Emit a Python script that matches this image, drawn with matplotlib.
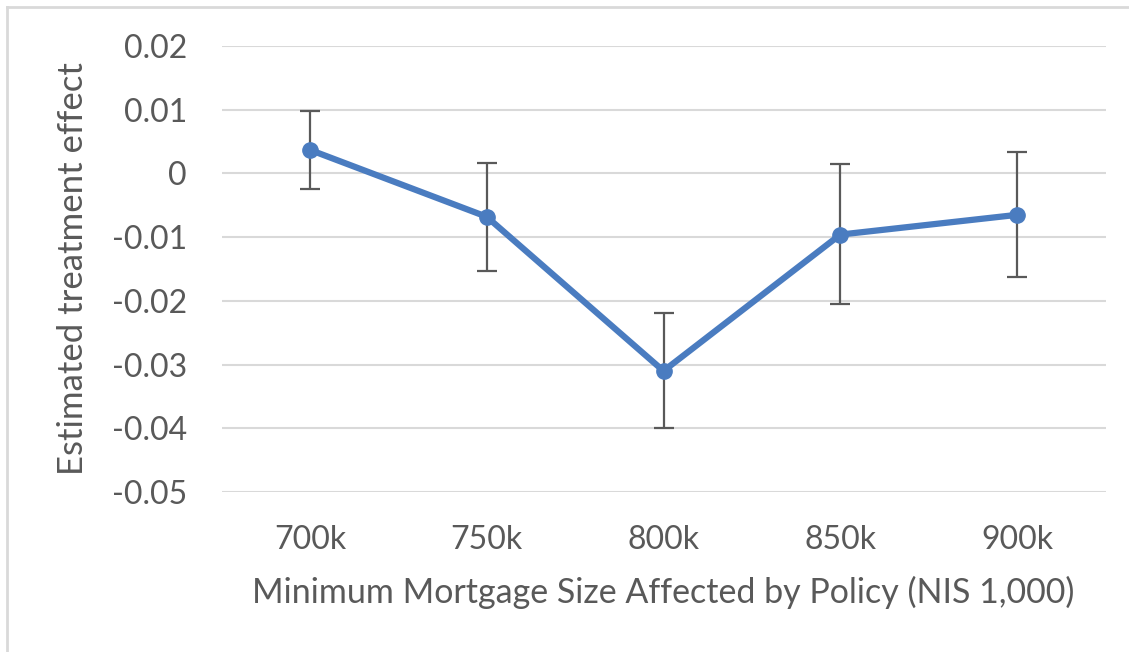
import matplotlib
matplotlib.use("Agg")
import matplotlib.pyplot as plt
from matplotlib.lines import Line2D

categories = ["700k", "750k", "800k", "850k", "900k"]
estimates = [0.0037, -0.0068, -0.0310, -0.0096, -0.0065]
upper = [0.0098, 0.0016, -0.0219, 0.0015, 0.0034]
lower = [-0.0024, -0.0153, -0.0400, -0.0205, -0.0162]
yticks = [0.02, 0.01, 0, -0.01, -0.02, -0.03, -0.04, -0.05]
ytick_labels = ["0.02", "0.01", "0", "-0.01", "-0.02", "-0.03", "-0.04", "-0.05"]

plt.rcParams['font.family'] = ['Lato', 'DejaVu Sans']
text_color = "#595959"

W, H = 1129, 652
fig = plt.figure(figsize=(W / 100, H / 100), dpi=100)
ax = fig.add_axes([221.5 / W, 1 - 492 / H, (1105.5 - 221.5) / W, (492 - 46) / H])

x = list(range(len(categories)))
yerr = [[e - l for e, l in zip(estimates, lower)], [u - e for e, u in zip(estimates, upper)]]
ax.errorbar(x, estimates, yerr=yerr, fmt='none', ecolor="#595959", elinewidth=1.6,
            capsize=7, capthick=1.6, zorder=2)
ax.plot(x, estimates, color="#4A7CC0", lw=4.5, marker='o', markersize=11,
        solid_capstyle='round', zorder=3)

ax.set_xlim(-0.5, len(categories) - 0.5)
ax.set_ylim(-0.05, 0.02)
ax.set_yticks(yticks)
ax.set_yticklabels(ytick_labels)
ax.set_xticks(x)
ax.set_xticklabels(categories)
ax.grid(axis='y', color="#d9d9d9", lw=1.5, zorder=0)
ax.set_axisbelow(True)
for s in ax.spines.values():
    s.set_visible(False)
ax.tick_params(axis='both', length=0, labelsize=23, colors=text_color)
ax.tick_params(axis='y', pad=25)
ax.tick_params(axis='x', pad=24)

ax.set_xlabel("Minimum Mortgage Size Affected by Policy (NIS 1,000)", fontsize=24.5,
              color=text_color, labelpad=15)
ax.set_ylabel("Estimated treatment effect", fontsize=25, color=text_color, labelpad=16)

# chart border (top and left visible)
fig.add_artist(Line2D([7 / W, 1], [1 - 7 / H, 1 - 7 / H], transform=fig.transFigure,
                      color="#d9d9d9", lw=2))
fig.add_artist(Line2D([7 / W, 7 / W], [0, 1 - 7 / H], transform=fig.transFigure,
                      color="#d9d9d9", lw=2))

fig.savefig("out.png", dpi=100)
